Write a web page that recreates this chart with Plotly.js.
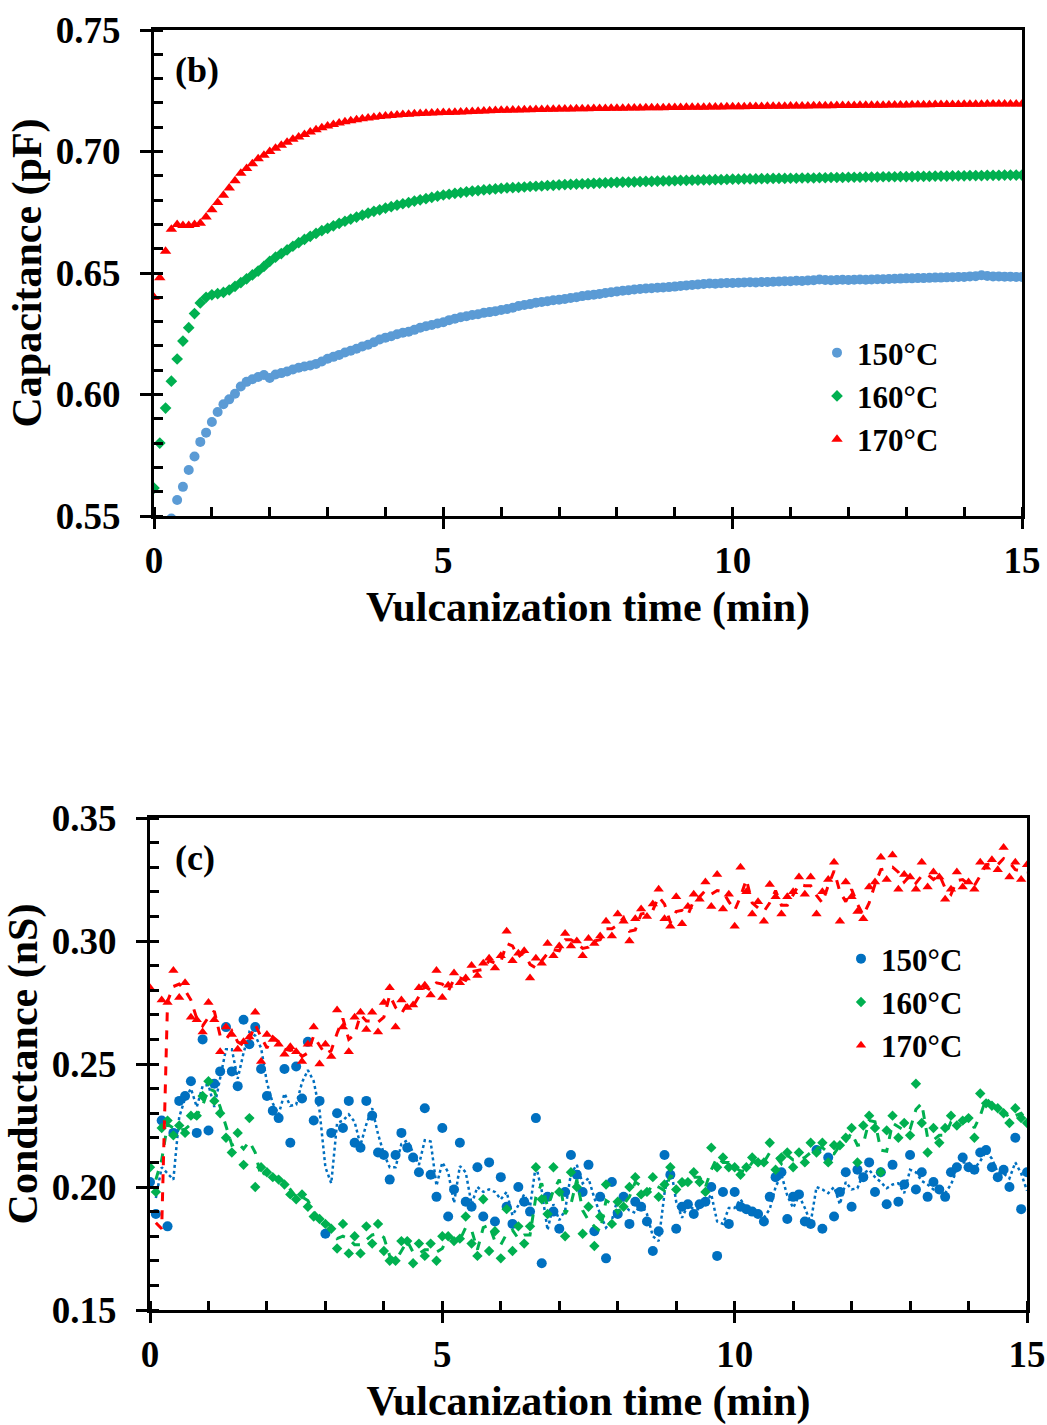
<!DOCTYPE html>
<html><head><meta charset="utf-8">
<script src="https://cdn.plot.ly/plotly-3.0.1.min.js"></script>
<style>body{margin:0;background:#fff}</style>
</head><body>
<div id="chart" style="width:1047px;height:1425px"></div>
<script>
// Sampling step of the measurements (min)
const timeStep = 0.1;
const seriesNames = ['150°C', '160°C', '170°C'];
const xTicks = [0, 5, 10, 15];

// (b) Capacitance (pF)
const cap150 = [
0.515,0.528,0.539,0.549,0.5566,0.562,0.5689,0.5745,0.5805,0.5843,
0.5887,0.5928,0.596,0.598,0.6003,0.6033,0.6052,0.6063,0.6072,0.608,
0.6068,0.6082,0.6088,0.6095,0.6103,0.611,0.6115,0.6119,0.6126,0.6136,
0.6147,0.6155,0.6163,0.6173,0.618,0.6188,0.6198,0.6205,0.6215,0.6226,
0.6234,0.624,0.6248,0.6254,0.6258,0.6266,0.6275,0.6281,0.6286,0.6292,
0.6297,0.6306,0.6312,0.6318,0.6322,0.6327,0.633,0.6336,0.6339,0.6343,
0.6348,0.6352,0.6357,0.6364,0.6368,0.6372,0.6378,0.6381,0.6384,0.6388,
0.639,0.6393,0.6397,0.64,0.6405,0.6408,0.6411,0.6414,0.6418,0.6421,
0.6424,0.6427,0.6429,0.6432,0.6434,0.6436,0.6437,0.6439,0.644,0.6442,
0.6444,0.6447,0.6449,0.6451,0.6453,0.6455,0.6457,0.6456,0.6458,0.6459,
0.6459,0.646,0.6461,0.6462,0.6461,0.6463,0.6463,0.6464,0.6465,0.6466,
0.6466,0.6468,0.6467,0.6469,0.647,0.6473,0.6471,0.647,0.6471,0.6472,
0.6471,0.6472,0.6473,0.6472,0.6473,0.6474,0.6474,0.6475,0.6476,0.6477,
0.6478,0.6478,0.6479,0.6479,0.648,0.6481,0.6481,0.6482,0.6483,0.6484,
0.6484,0.6486,0.6487,0.6491,0.6488,0.6486,0.6486,0.6485,0.6485,0.6484,
0.6484];
const cap160 = [
0.5615,0.580,0.5944,0.6055,0.6146,0.622,0.6275,0.6333,0.6377,0.640,
0.641,0.6415,0.642,0.643,0.6445,0.646,0.6476,0.6492,0.6508,0.6527,
0.6548,0.6565,0.658,0.6595,0.661,0.6625,0.6638,0.6651,0.6663,0.6674,
0.6684,0.6694,0.6704,0.6713,0.6722,0.673,0.6738,0.6746,0.6754,0.676,
0.6767,0.6773,0.6779,0.6785,0.679,0.6796,0.6801,0.6806,0.6811,0.6816,
0.6821,0.6824,0.6828,0.6831,0.6834,0.6837,0.6839,0.6842,0.6844,0.6846,
0.6848,0.685,0.6851,0.6852,0.6854,0.6856,0.6857,0.6858,0.686,0.6861,
0.6863,0.6864,0.6865,0.6866,0.6867,0.6868,0.6869,0.687,0.6871,0.6872,
0.6873,0.6874,0.6874,0.6875,0.6876,0.6877,0.6877,0.6878,0.6879,0.6879,
0.688,0.6881,0.6881,0.6882,0.6882,0.6883,0.6883,0.6884,0.6884,0.6885,
0.6886,0.6886,0.6887,0.6887,0.6887,0.6888,0.6888,0.6889,0.6889,0.6889,
0.689,0.689,0.6891,0.6891,0.6891,0.6892,0.6892,0.6893,0.6893,0.6893,
0.6894,0.6894,0.6894,0.6895,0.6895,0.6895,0.6896,0.6896,0.6896,0.6897,
0.6897,0.6897,0.6898,0.6898,0.6898,0.6899,0.6899,0.6899,0.69,0.69,
0.69,0.6901,0.6901,0.6901,0.6902,0.6902,0.6902,0.6903,0.6903,0.6903,
0.6903];
const cap170 = [
0.640,0.648,0.659,0.668,0.670,0.6695,0.6695,0.670,0.6705,0.673,
0.676,0.679,0.682,0.685,0.688,0.691,0.693,0.695,0.697,0.6985,
0.700,0.7013,0.7026,0.7038,0.705,0.706,0.707,0.708,0.709,0.7098,
0.7105,0.7111,0.7117,0.7122,0.7127,0.7131,0.7135,0.7138,0.7141,0.7144,
0.7146,0.7148,0.715,0.7152,0.7153,0.7155,0.7156,0.7157,0.7158,0.7159,
0.716,0.7161,0.7162,0.7163,0.7164,0.7165,0.7166,0.7167,0.7168,0.7169,
0.717,0.717,0.7171,0.7171,0.7172,0.7172,0.7173,0.7173,0.7174,0.7174,
0.7175,0.7175,0.7175,0.7176,0.7176,0.7176,0.7177,0.7177,0.7177,0.7178,
0.7178,0.7178,0.7179,0.7179,0.7179,0.718,0.718,0.718,0.718,0.7181,
0.7181,0.7181,0.7182,0.7182,0.7182,0.7182,0.7183,0.7183,0.7183,0.7184,
0.7184,0.7184,0.7184,0.7185,0.7185,0.7185,0.7186,0.7186,0.7186,0.7186,
0.7187,0.7187,0.7187,0.7187,0.7188,0.7188,0.7188,0.7188,0.7189,0.7189,
0.7189,0.7189,0.719,0.719,0.719,0.719,0.719,0.7191,0.7191,0.7191,
0.7191,0.7192,0.7192,0.7192,0.7192,0.7193,0.7193,0.7193,0.7193,0.7193,
0.7194,0.7194,0.7194,0.7194,0.7195,0.7195,0.7195,0.7195,0.7195,0.7195,
0.7195];

// (c) Conductance (nS)
const cond150 = [
0.202,0.189,0.227,0.184,0.222,0.235,0.237,0.243,0.222,0.260,
0.223,0.242,0.247,0.265,0.247,0.241,0.268,0.258,0.265,0.248,
0.237,0.231,0.228,0.248,0.218,0.249,0.236,0.259,0.227,0.235,
0.181,0.222,0.230,0.224,0.235,0.218,0.216,0.235,0.229,0.214,
0.213,0.203,0.213,0.222,0.216,0.212,0.206,0.232,0.205,0.196,
0.224,0.188,0.199,0.218,0.194,0.192,0.208,0.188,0.210,0.186,
0.204,0.192,0.185,0.200,0.194,0.190,0.228,0.169,0.196,0.190,
0.183,0.198,0.213,0.205,0.198,0.209,0.182,0.196,0.171,0.202,
0.189,0.196,0.185,0.194,0.192,0.186,0.174,0.182,0.213,0.205,
0.183,0.192,0.193,0.189,0.193,0.194,0.200,0.172,0.198,0.185,
0.198,0.192,0.191,0.190,0.189,0.186,0.196,0.204,0.206,0.187,
0.196,0.197,0.186,0.185,0.215,0.183,0.212,0.188,0.198,0.206,
0.192,0.207,0.204,0.210,0.198,0.206,0.193,0.209,0.194,0.201,
0.213,0.199,0.206,0.196,0.202,0.199,0.196,0.206,0.208,0.212,
0.208,0.207,0.214,0.215,0.208,0.204,0.207,0.200,0.220,0.191,
0.206];
const cond160 = [
0.208,0.198,0.224,0.227,0.221,0.225,0.222,0.229,0.229,0.237,
0.243,0.235,0.230,0.220,0.214,0.222,0.209,0.228,0.200,0.208,
0.206,0.204,0.203,0.201,0.197,0.195,0.197,0.192,0.188,0.187,
0.185,0.183,0.175,0.185,0.173,0.180,0.173,0.184,0.177,0.185,
0.174,0.170,0.170,0.178,0.178,0.169,0.177,0.172,0.177,0.170,
0.180,0.180,0.178,0.179,0.188,0.177,0.172,0.195,0.174,0.182,
0.171,0.191,0.174,0.184,0.177,0.184,0.208,0.195,0.189,0.208,
0.198,0.180,0.206,0.200,0.181,0.192,0.176,0.188,0.201,0.185,
0.194,0.192,0.200,0.204,0.197,0.198,0.204,0.196,0.201,0.208,
0.199,0.202,0.202,0.206,0.202,0.198,0.216,0.208,0.212,0.208,
0.208,0.205,0.208,0.212,0.210,0.210,0.218,0.207,0.212,0.214,
0.208,0.214,0.210,0.218,0.214,0.218,0.210,0.217,0.217,0.220,
0.224,0.210,0.225,0.229,0.224,0.206,0.223,0.229,0.220,0.226,
0.221,0.242,0.226,0.214,0.224,0.218,0.224,0.229,0.225,0.227,
0.228,0.220,0.238,0.234,0.233,0.232,0.230,0.226,0.232,0.228,
0.226];
const cond170 = [
0.281,0.090,0.276,0.275,0.288,0.277,0.283,0.269,0.268,0.263,
0.275,0.268,0.255,0.265,0.262,0.256,0.259,0.261,0.271,0.251,
0.262,0.260,0.258,0.254,0.257,0.255,0.251,0.258,0.265,0.250,
0.258,0.253,0.272,0.265,0.255,0.269,0.271,0.264,0.271,0.263,
0.275,0.281,0.265,0.276,0.273,0.274,0.281,0.282,0.278,0.288,
0.277,0.282,0.287,0.283,0.285,0.290,0.286,0.291,0.293,0.289,
0.294,0.304,0.292,0.295,0.296,0.285,0.293,0.291,0.299,0.294,
0.298,0.303,0.298,0.300,0.294,0.301,0.299,0.302,0.308,0.302,
0.311,0.308,0.300,0.309,0.313,0.310,0.315,0.321,0.309,0.306,
0.318,0.307,0.314,0.319,0.317,0.324,0.314,0.327,0.313,0.319,
0.306,0.330,0.320,0.311,0.316,0.308,0.323,0.318,0.311,0.318,
0.320,0.326,0.319,0.326,0.311,0.320,0.325,0.332,0.308,0.324,
0.318,0.312,0.309,0.322,0.324,0.334,0.325,0.335,0.321,0.327,
0.326,0.321,0.332,0.322,0.328,0.326,0.317,0.321,0.328,0.322,
0.324,0.321,0.332,0.330,0.333,0.329,0.338,0.326,0.332,0.325,
0.331];

const time = cap150.map((_, i) => +(i * timeStep).toFixed(1));
// 2-period moving average trend line (as in the original spreadsheet chart)
const movAvg = arr => arr.map((v, i) => i === 0 ? null : (arr[i - 1] + v) / 2);

const FONT = 'Liberation Serif, Times New Roman, serif';
const BLACK = '#000000';
const capColors = ['#5B9BD5', '#00B050', '#FF0000'];
const condColors = ['#0070C0', '#00B050', '#FF0000'];
const symbols = ['circle', 'diamond', 'triangle-up'];

const traces = [];
[cap150, cap160, cap170].forEach((ys, k) => {
  traces.push({
    type: 'scatter', mode: 'markers', x: time, y: ys, name: seriesNames[k],
    xaxis: 'x', yaxis: 'y', legend: 'legend',
    marker: {symbol: symbols[k], color: capColors[k], size: [10, 9, 10][k]}
  });
});
const lineDash = ['dot', 'dash', 'dash'];
[cond150, cond160, cond170].forEach((ys, k) => {
  traces.push({
    type: 'scatter', mode: 'markers', x: time, y: ys, name: seriesNames[k],
    xaxis: 'x2', yaxis: 'y2', legend: 'legend2',
    marker: {symbol: symbols[k], color: condColors[k], size: [10, 8, 9][k]}
  });
  traces.push({
    type: 'scatter', mode: 'lines', x: time, y: movAvg(ys), showlegend: false,
    xaxis: 'x2', yaxis: 'y2', connectgaps: false, hoverinfo: 'skip',
    line: {color: condColors[k], width: k === 0 ? 2.5 : 3, dash: lineDash[k]}
  });
});

const W = 1047, H = 1425;
const tickFont = {family: FONT, size: 37, color: BLACK, weight: 'bold'};
const titleFont = {family: FONT, size: 42, color: BLACK, weight: 'bold'};

function xAxis(domain, anchor) {
  return {
    domain: domain, anchor: anchor, range: [0, 15], tickmode: 'array', tickvals: xTicks,
    ticktext: xTicks.map(String),
    ticks: 'outside', ticklen: 10, tickwidth: 3, tickcolor: BLACK,
    showline: true, linewidth: 3, linecolor: BLACK, mirror: true,
    showgrid: false, zeroline: false, tickfont: tickFont, ticklabelstandoff: 0,
    minor: {ticks: 'inside', dtick: 1, tick0: 0, ticklen: 9, tickwidth: 3, tickcolor: BLACK, showgrid: false},
    title: {text: 'Vulcanization time (min)', font: titleFont, standoff: 12},
    fixedrange: true
  };
}
function yAxis(domain, anchor, range, titleText) {
  return {
    domain: domain, anchor: anchor, range: range, tick0: range[0], dtick: 0.05, tickformat: '.2f',
    ticks: 'outside', ticklen: 11, tickwidth: 3, tickcolor: BLACK,
    showline: true, linewidth: 3, linecolor: BLACK, mirror: true,
    showgrid: false, zeroline: false, tickfont: tickFont, ticklabelstandoff: 12,
    minor: {ticks: 'inside', dtick: 0.01, ticklen: 9, tickwidth: 3, tickcolor: BLACK, showgrid: false},
    title: {text: titleText, font: titleFont, standoff: 2},
    fixedrange: true
  };
}
function innerX(over, anchor) {
  return {overlaying: over, anchor: anchor, range: [0, 15], tickmode: 'array', tickvals: xTicks,
    ticks: 'inside', ticklen: 9, tickwidth: 3, tickcolor: BLACK, showticklabels: false,
    showline: false, showgrid: false, zeroline: false, fixedrange: true};
}
function innerY(over, anchor, range) {
  return {overlaying: over, anchor: anchor, range: range, tick0: range[0], dtick: 0.05,
    ticks: 'inside', ticklen: 9, tickwidth: 3, tickcolor: BLACK, showticklabels: false,
    showline: false, showgrid: false, zeroline: false, fixedrange: true};
}

const topX = [154 / W, 1022 / W], topY = [1 - 516 / H, 1 - 30 / H];
const botX = [150 / W, 1027 / W], botY = [1 - 1310 / H, 1 - 818 / H];
const capRange = [0.55, 0.75], condRange = [0.15, 0.35];

const legendFont = {family: FONT, size: 31, color: BLACK, weight: 'bold'};
const layout = {
  width: W, height: H,
  margin: {l: 0, r: 0, t: 0, b: 0},
  paper_bgcolor: '#ffffff', plot_bgcolor: '#ffffff',
  font: {family: FONT, color: BLACK},
  xaxis: xAxis(topX, 'y'),
  yaxis: yAxis(topY, 'x', capRange, 'Capacitance (pF)'),
  xaxis2: xAxis(botX, 'y2'),
  yaxis2: yAxis(botY, 'x2', condRange, 'Conductance (nS)'),
  xaxis3: innerX('x', 'y'),
  yaxis3: innerY('y', 'x', capRange),
  xaxis4: innerX('x2', 'y2'),
  yaxis4: innerY('y2', 'x2', condRange),
  legend: {x: 817 / W, y: 1 - 326 / H, xanchor: 'left', yanchor: 'top',
    font: legendFont, bgcolor: 'rgba(0,0,0,0)', borderwidth: 0, itemwidth: 30, tracegroupgap: 0},
  legend2: {x: 841 / W, y: 1 - 932 / H, xanchor: 'left', yanchor: 'top',
    font: legendFont, bgcolor: 'rgba(0,0,0,0)', borderwidth: 0, itemwidth: 30, tracegroupgap: 0},
  annotations: [
    {text: '(b)', xref: 'paper', yref: 'paper', x: 197 / W, y: 1 - 70 / H, xanchor: 'center', yanchor: 'middle',
     showarrow: false, font: {family: FONT, size: 36, color: BLACK, weight: 'bold'}},
    {text: '(c)', xref: 'paper', yref: 'paper', x: 195 / W, y: 1 - 858 / H, xanchor: 'center', yanchor: 'middle',
     showarrow: false, font: {family: FONT, size: 36, color: BLACK, weight: 'bold'}}
  ],
  showlegend: true
};

Plotly.newPlot('chart', traces, layout, {displayModeBar: false, staticPlot: true});
</script>
</body></html>
